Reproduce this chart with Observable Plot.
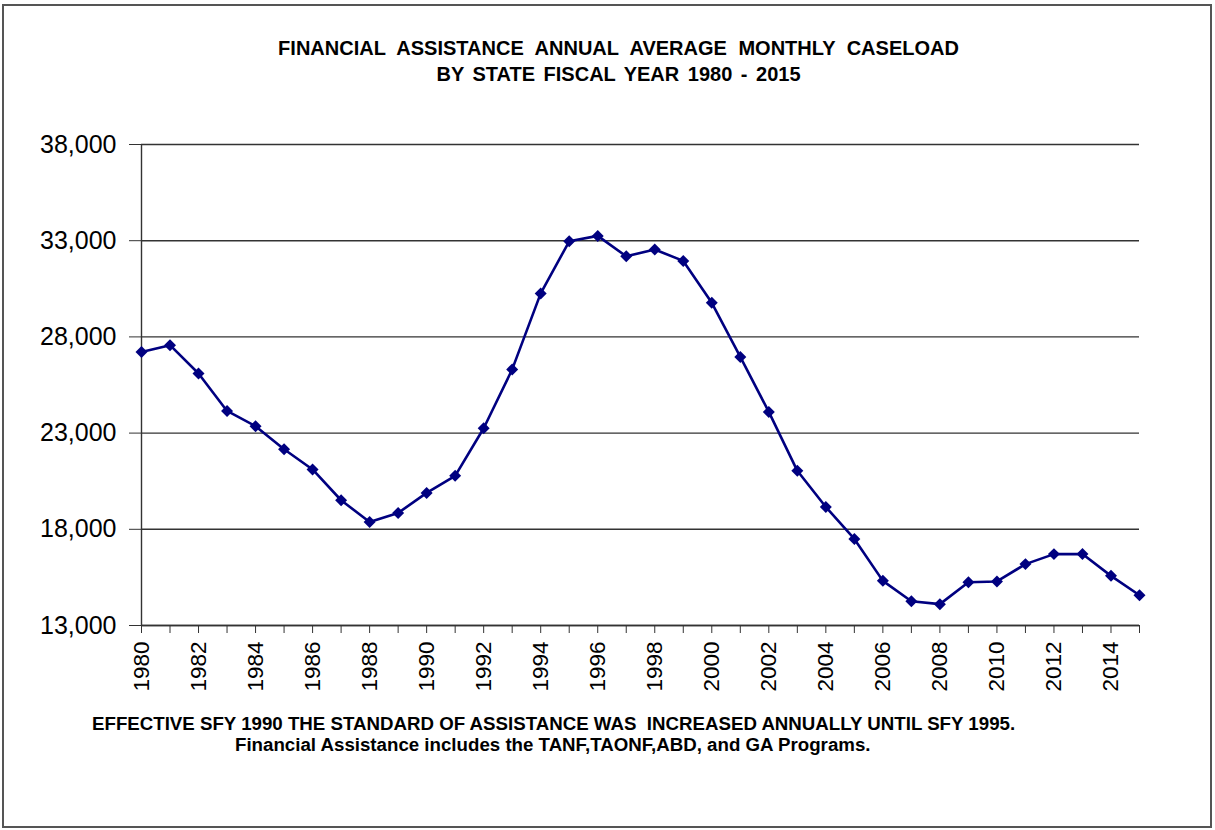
<!DOCTYPE html>
<html>
<head>
<meta charset="utf-8">
<script src="https://cdn.jsdelivr.net/npm/d3@7"></script>
<script src="https://cdn.jsdelivr.net/npm/@observablehq/plot@0.6"></script>
<style>
  html, body { margin: 0; padding: 0; background: #fff; }
  body { font-family: "Liberation Sans", Arial, sans-serif; color: #000; }
  #wrap { position: relative; width: 1215px; height: 830px; overflow: hidden; }
  #frame { position: absolute; left: 2px; top: 4px; width: 1206px; height: 820px; border: 2px solid #555; pointer-events: none; }
  #title { position: relative; height: 100px; }
  #title div { position: absolute; left: 0; width: 1237px; text-align: center; font-weight: bold; font-size: 20px; white-space: nowrap; }
  #chart svg { display: block; font-family: "Liberation Sans", Arial, sans-serif; }
  #foot { position: relative; height: 120px; }
  #foot div { position: absolute; font-weight: bold; font-size: 18.7px; white-space: nowrap; }
</style>
</head>
<body>
<div id="wrap">
  <div id="frame"></div>
  <div id="title">
    <div id="t1" style="top:37px; word-spacing:6px">FINANCIAL ASSISTANCE ANNUAL AVERAGE MONTHLY CASELOAD</div>
    <div id="t2" style="top:63px; word-spacing:3px">BY STATE FISCAL YEAR 1980 - 2015</div>
  </div>
  <div id="chart"></div>
  <div id="foot">
    <div id="f1" style="left:92px; top:3px">EFFECTIVE SFY 1990 THE STANDARD OF ASSISTANCE WAS&nbsp; INCREASED ANNUALLY UNTIL SFY 1995.</div>
    <div id="f2" style="left:235px; top:24px">Financial Assistance includes the TANF,TAONF,ABD, and GA Programs.</div>
  </div>
</div>
<script>
const years = d3.range(1980, 2016);
const caseload = [
  27220, 27570, 26100, 24150, 23360, 22160, 21110, 19510, 18380, 18850,
  19890, 20780, 23250, 26310, 30260, 32970, 33250, 32190, 32540, 31950,
  29770, 26960, 24100, 21040, 19160, 17500, 15320, 14260, 14110, 15250,
  15290, 16190, 16710, 16720, 15580, 14570
];
const yTicks = [13000, 18000, 23000, 28000, 33000, 38000];
const xTicks = years;

const data = years.map((y, i) => ({year: y, value: caseload[i]}));

const chart = Plot.plot({
  width: 1215,
  height: 610,
  marginTop: 44,
  marginBottom: 85,
  marginLeft: 141,
  marginRight: 76,
  x: {domain: [1980, 2015]},
  y: {domain: [13000, 38000]},
  marks: [
    Plot.gridY(yTicks, {stroke: "#333", strokeOpacity: 1, strokeWidth: 1.4}),
    Plot.axisY(yTicks, {tickSize: 12, tickPadding: 13, fontSize: 25, tickFormat: d3.format(","), label: null, stroke: "#333"}),
    Plot.axisX(xTicks, {tickSize: 8, tickPadding: 8, tickRotate: -90, fontSize: 22.5, tickFormat: d => d % 2 === 0 ? String(d) : "", label: null, stroke: "#333"}),
    Plot.ruleX([1980], {y1: 13000, y2: 38000, stroke: "#333", strokeWidth: 1.4}),
    Plot.ruleY([13000], {stroke: "#333", strokeWidth: 1.4}),
    Plot.line(data, {x: "year", y: "value", stroke: "#000080", strokeWidth: 2.6}),
    Plot.dot(data, {x: "year", y: "value", symbol: d3.symbolDiamond2, r: 5.4, fill: "#000080", stroke: "none"})
  ]
});
document.getElementById("chart").appendChild(chart);
</script>
</body>
</html>
